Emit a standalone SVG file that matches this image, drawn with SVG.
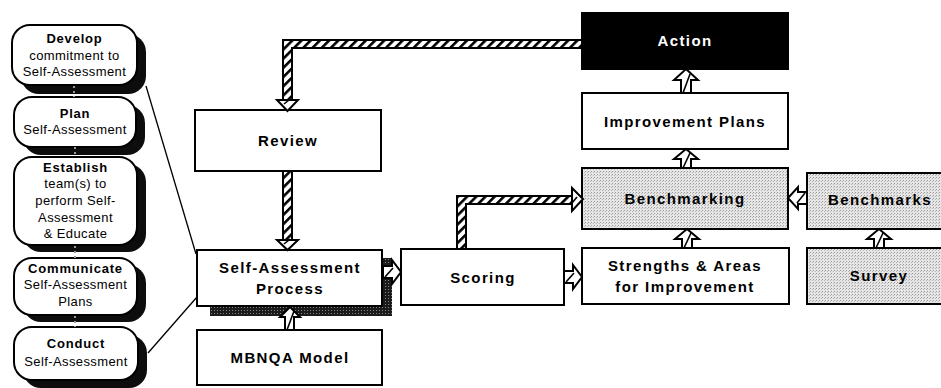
<svg xmlns="http://www.w3.org/2000/svg" width="941" height="388" viewBox="0 0 941 388">
  <defs>
    <pattern id="hatch" patternUnits="userSpaceOnUse" width="6.5" height="6.5" patternTransform="rotate(45)">
      <rect x="0" y="0" width="6.5" height="6.5" fill="#fff"/>
      <rect x="0" y="0" width="2.6" height="6.5" fill="#000"/>
    </pattern>
    <pattern id="dither" patternUnits="userSpaceOnUse" width="3" height="3">
      <rect width="3" height="3" fill="#e6e6e6"/>
      <rect x="0" y="0" width="1" height="1" fill="#9a9a9a"/>
      <rect x="2" y="1" width="1" height="1" fill="#b5b5b5"/>
    </pattern>
    <pattern id="darkDither" patternUnits="userSpaceOnUse" width="3" height="3">
      <rect width="3" height="3" fill="#1a1a1a"/>
      <rect x="1" y="1" width="1" height="1" fill="#888"/>
    </pattern>
  </defs>
  <style>
    .box { fill: #fff; stroke: #000; stroke-width: 2; }
    .shade { fill: url(#dither); stroke: #000; stroke-width: 2; }
    .dark { fill: #000; stroke: #000; stroke-width: 2; }
    .pill { fill: #fff; stroke: #000; stroke-width: 2; }
    .pillShadow { fill: #0d0d0d; }
    .label { font-family: "Liberation Sans", Arial, Helvetica, sans-serif; font-size: 15px; font-weight: bold; letter-spacing: 1.4px; text-anchor: middle; fill: #000; }
    .inv { fill: #fff; }
    .sub { font-family: "Liberation Sans", Arial, Helvetica, sans-serif; font-size: 13px; letter-spacing: 0.4px; text-anchor: middle; fill: #000; }
    .subB { font-weight: bold; letter-spacing: 0.8px; }
    .band { fill: url(#hatch); stroke: #000; stroke-width: 2; stroke-linejoin: miter; }
    .head { fill: #fff; stroke: #000; stroke-width: 2; stroke-linejoin: miter; }
    .tick { stroke: #000; stroke-width: 1.6; fill: none; }
    .leader { stroke: #000; stroke-width: 1.3; fill: none; }
    .speck { stroke: #999; stroke-width: 2; stroke-dasharray: 2 3; fill: none; }
  </style>

  <!-- Left column: the five self-assessment steps -->
  <g id="step-develop">
    <rect class="pillShadow" x="21" y="34" width="125" height="60" rx="18"/>
    <rect class="pill" x="12" y="25" width="125" height="60" rx="18"/>
    <text class="sub subB" x="74.5" y="43">Develop</text>
    <text class="sub" x="74.5" y="60">commitment to</text>
    <text class="sub" x="74.5" y="76">Self-Assessment</text>
  </g>
  <g id="step-plan">
    <rect class="pillShadow" x="23" y="105" width="122" height="50" rx="18"/>
    <rect class="pill" x="14" y="97" width="122" height="50" rx="18"/>
    <text class="sub subB" x="75" y="118">Plan</text>
    <text class="sub" x="75" y="134">Self-Assessment</text>
  </g>
  <g id="step-establish">
    <rect class="pillShadow" x="23" y="164" width="123" height="88" rx="18"/>
    <rect class="pill" x="14" y="157" width="123" height="88" rx="18"/>
    <text class="sub subB" x="75.5" y="172">Establish</text>
    <text class="sub" x="75.5" y="188">team(s) to</text>
    <text class="sub" x="75.5" y="205">perform Self-</text>
    <text class="sub" x="75.5" y="222">Assessment</text>
    <text class="sub" x="75.5" y="238">&amp; Educate</text>
  </g>
  <g id="step-communicate">
    <rect class="pillShadow" x="23" y="265" width="123" height="57" rx="18"/>
    <rect class="pill" x="14" y="258" width="123" height="57" rx="18"/>
    <text class="sub subB" x="75.5" y="273">Communicate</text>
    <text class="sub" x="75.5" y="289">Self-Assessment</text>
    <text class="sub" x="75.5" y="306">Plans</text>
  </g>
  <g id="step-conduct">
    <rect class="pillShadow" x="23" y="335" width="124" height="53" rx="18"/>
    <rect class="pill" x="14" y="327" width="124" height="53" rx="18"/>
    <text class="sub subB" x="76" y="348">Conduct</text>
    <text class="sub" x="76" y="366">Self-Assessment</text>
  </g>

  <!-- Main process boxes -->
  <g id="review">
    <rect class="box" x="195" y="110" width="186" height="61"/>
    <text class="label" x="288" y="146">Review</text>
  </g>
  <g id="self-assessment-process">
    <rect x="210" y="258" width="182" height="58" fill="url(#darkDither)"/>
    <rect class="box" x="197" y="250" width="185" height="56"/>
    <text class="label" x="290" y="273">Self-Assessment</text>
    <text class="label" x="290" y="294">Process</text>
  </g>
  <g id="mbnqa-model">
    <rect class="box" x="197" y="330" width="185" height="55"/>
    <text class="label" x="290" y="363">MBNQA Model</text>
  </g>
  <g id="scoring">
    <rect class="box" x="401" y="249" width="163" height="56"/>
    <text class="label" x="483" y="283">Scoring</text>
  </g>
  <g id="action">
    <rect class="dark" x="582" y="13" width="206" height="56"/>
    <text class="label inv" x="685" y="46">Action</text>
  </g>
  <g id="improvement-plans">
    <rect class="box" x="582" y="93" width="206" height="56"/>
    <text class="label" x="685" y="127">Improvement Plans</text>
  </g>
  <g id="benchmarking">
    <rect class="shade" x="582" y="168" width="206" height="61"/>
    <text class="label" x="685" y="204">Benchmarking</text>
  </g>
  <g id="strengths-areas">
    <rect class="box" x="582" y="248" width="207" height="56"/>
    <text class="label" x="685" y="271">Strengths &amp; Areas</text>
    <text class="label" x="685" y="292">for Improvement</text>
  </g>
  <g id="benchmarks">
    <rect class="shade" x="807" y="173" width="150" height="56"/>
    <text class="label" x="880" y="205">Benchmarks</text>
  </g>
  <g id="survey">
    <rect class="shade" x="807" y="248" width="150" height="56"/>
    <text class="label" x="879" y="281">Survey</text>
  </g>

  <!-- Connectors -->
  <g id="connectors">
    <!-- leader lines from the step column to the process box -->
    <line class="leader" x1="146" y1="86" x2="196" y2="254"/>
    <line class="leader" x1="148" y1="353" x2="197" y2="297"/>
    <!-- faint links between the steps -->
    <line class="speck" x1="74" y1="86" x2="74" y2="97"/>
    <line class="speck" x1="75" y1="147" x2="75" y2="157"/>
    <line class="speck" x1="75" y1="246" x2="75" y2="258"/>
    <line class="speck" x1="75" y1="316" x2="75" y2="327"/>

    <!-- Action back to Review -->
    <path class="band" d="M582,40 H283 V100 H292 V48 H582 Z"/>
    <path class="head" d="M277,100 H298 L287.5,111 Z"/>
    <line class="tick" x1="284" y1="104" x2="289" y2="100"/>

    <!-- Review to Self-Assessment Process -->
    <path class="band" d="M283,171 V240 H292 V171 Z"/>
    <path class="head" d="M277,240 H298 L287.5,250 Z"/>
    <line class="tick" x1="284" y1="244" x2="289" y2="240"/>

    <!-- Scoring to Benchmarking -->
    <path class="band" d="M457,249 V196 H572 V204 H466 V249 Z"/>
    <path class="head" d="M572,188 V211 L583,199 Z"/>
    <line class="tick" x1="572" y1="203" x2="577" y2="197"/>

    <!-- Self-Assessment Process to Scoring -->
    <path class="head" d="M383,266 H392 V260 L401,272 L392,284 V278 H383 Z"/>
    <line class="tick" x1="385" y1="277" x2="393" y2="268"/>

    <!-- Scoring to Strengths & Areas -->
    <path class="head" d="M564,271 H573 V265 L582,277 L573,289 V283 H564 Z"/>
    <line class="tick" x1="566" y1="282" x2="574" y2="273"/>

    <!-- Benchmarks to Benchmarking -->
    <path class="head" d="M807,192 H798 V187 L788,198 L798,209 V204 H807 Z"/>
    <line class="tick" x1="805" y1="193" x2="797" y2="203"/>

    <!-- upward arrows -->
    <path class="head" d="M686,69 L698,80 H691 V93 H681 V80 H674 Z"/>
    <line class="tick" x1="683" y1="93" x2="690" y2="74"/>

    <path class="head" d="M686,149 L698,159 H691 V168 H681 V159 H674 Z"/>
    <line class="tick" x1="683" y1="168" x2="690" y2="153"/>

    <path class="head" d="M687,229 L699,239 H692 V248 H682 V239 H675 Z"/>
    <line class="tick" x1="684" y1="248" x2="691" y2="233"/>

    <path class="head" d="M879,229 L891,239 H884 V248 H874 V239 H867 Z"/>
    <line class="tick" x1="876" y1="248" x2="883" y2="233"/>

    <path class="head" d="M290,307 L300,317 H294 V330 H285 V317 H280 Z"/>
    <line class="tick" x1="287" y1="330" x2="294" y2="311"/>
  </g>
</svg>
